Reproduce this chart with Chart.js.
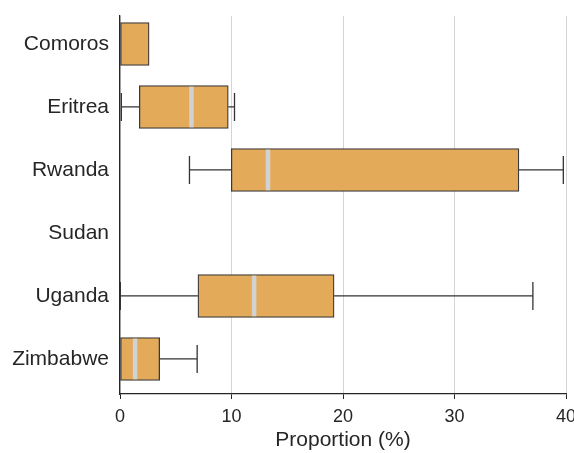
<!DOCTYPE html>
<html>
<head>
<meta charset="utf-8">
<script src="https://cdn.jsdelivr.net/npm/chart.js@4/dist/chart.umd.min.js"></script>
<style>
  html, body { margin: 0; padding: 0; background: #fff; }
  #wrap { width: 574px; height: 453px; }
</style>
</head>
<body>
<div id="wrap"><canvas id="box-chart" width="574" height="453"></canvas></div>
<script>
// values (percent)
const categories = ['Comoros', 'Eritrea', 'Rwanda', 'Sudan', 'Uganda', 'Zimbabwe'];
const whiskerLow = [0, 0.12, 6.23, null, 0.03, 0];
const q1 = [0, 1.73, 9.98, null, 6.99, 0];
const median = [null, 6.41, 13.27, null, 12.03, 1.35];
const q3 = [2.61, 9.71, 35.78, null, 19.2, 3.56];
const whiskerHigh = [2.61, 10.27, 39.76, null, 37.03, 6.92];
const xTicks = [0, 10, 20, 30, 40];

(function(){
  const FONT = "'Liberation Sans', Arial, sans-serif";
  const INK = '#262626';

  // rows that actually have a box (Sudan has none)
  const shown = categories.map((c, i) => i).filter(i => q1[i] !== null);

  // whiskers + median drawn on top of the bars, from the same arrays
  const boxExtras = {
    id: 'boxExtras',
    afterDatasetsDraw(chart){
      const { ctx } = chart;
      const x = chart.scales.x;
      const meta = chart.getDatasetMeta(0);
      const capHalf = 14;
      ctx.save();
      meta.data.forEach((el, j) => {
        const i = shown[j];
        const yc = el.y;
        const top = yc - el.height / 2;
        const bot = yc + el.height / 2;

        ctx.strokeStyle = '#333';
        ctx.lineWidth = 1.3;
        const sides = [[whiskerLow[i], q1[i]], [whiskerHigh[i], q3[i]]];
        sides.forEach(([w, edge]) => {
          if (w === null || w === edge) return;
          const px = x.getPixelForValue(w);
          const pe = x.getPixelForValue(edge);
          ctx.beginPath();
          ctx.moveTo(pe, yc);
          ctx.lineTo(px, yc);
          ctx.moveTo(px, yc - capHalf);
          ctx.lineTo(px, yc + capHalf);
          ctx.stroke();
        });

        if (median[i] !== null) {
          const pm = x.getPixelForValue(median[i]);
          ctx.strokeStyle = '#d2d2d2';
          ctx.lineWidth = 4.5;
          ctx.beginPath();
          ctx.moveTo(pm, top + 1.2);
          ctx.lineTo(pm, bot - 1.2);
          ctx.stroke();
        }
      });
      ctx.restore();
    }
  };

  const ctx = document.getElementById('box-chart').getContext('2d');
  new Chart(ctx, {
    type: 'bar',
    data: {
      datasets: [{
        data: shown.map(i => ({ y: i, x: [q1[i], q3[i]] })),
        backgroundColor: '#E3AA5A',
        borderColor: '#3a3a3a',
        borderWidth: 1.3,
        borderSkipped: false,
        barThickness: 43
      }]
    },
    options: {
      indexAxis: 'y',
      responsive: false,
      animation: false,
      layout: { padding: { top: 16, right: 8, left: 0, bottom: 0 } },
      plugins: { legend: { display: false }, tooltip: { enabled: false } },
      scales: {
        x: {
          type: 'linear',
          min: 0,
          max: 40,
          afterBuildTicks: s => { s.ticks = xTicks.map(v => ({ value: v })); },
          ticks: { font: { family: FONT, size: 18 }, color: INK, padding: 7 },
          grid: { color: '#d4d4d4', lineWidth: 1, tickColor: INK, tickLength: 5 },
          border: { color: INK, width: 1.3 },
          title: {
            display: true,
            text: 'Proportion (%)',
            font: { family: FONT, size: 21 },
            color: INK,
            padding: { top: 0, bottom: 0 }
          },
          afterFit: s => { s.height = 59; s.paddingLeft = 0; s.paddingRight = 0; }
        },
        y: {
          type: 'linear',
          reverse: true,
          offset: false,
          min: -0.444,
          max: 5.556,
          afterBuildTicks: s => { s.ticks = categories.map((c, i) => ({ value: i })); },
          ticks: {
            callback: v => categories[v],
            font: { family: FONT, size: 21 },
            color: INK,
            padding: 11,
            autoSkip: false
          },
          grid: { display: false, drawTicks: false, offset: false },
          border: { color: INK, width: 1.3 },
          afterFit: s => { s.width = 120; s.paddingTop = 0; s.paddingBottom = 0; }
        }
      }
    },
    plugins: [boxExtras]
  });
})();
</script>
</body>
</html>
